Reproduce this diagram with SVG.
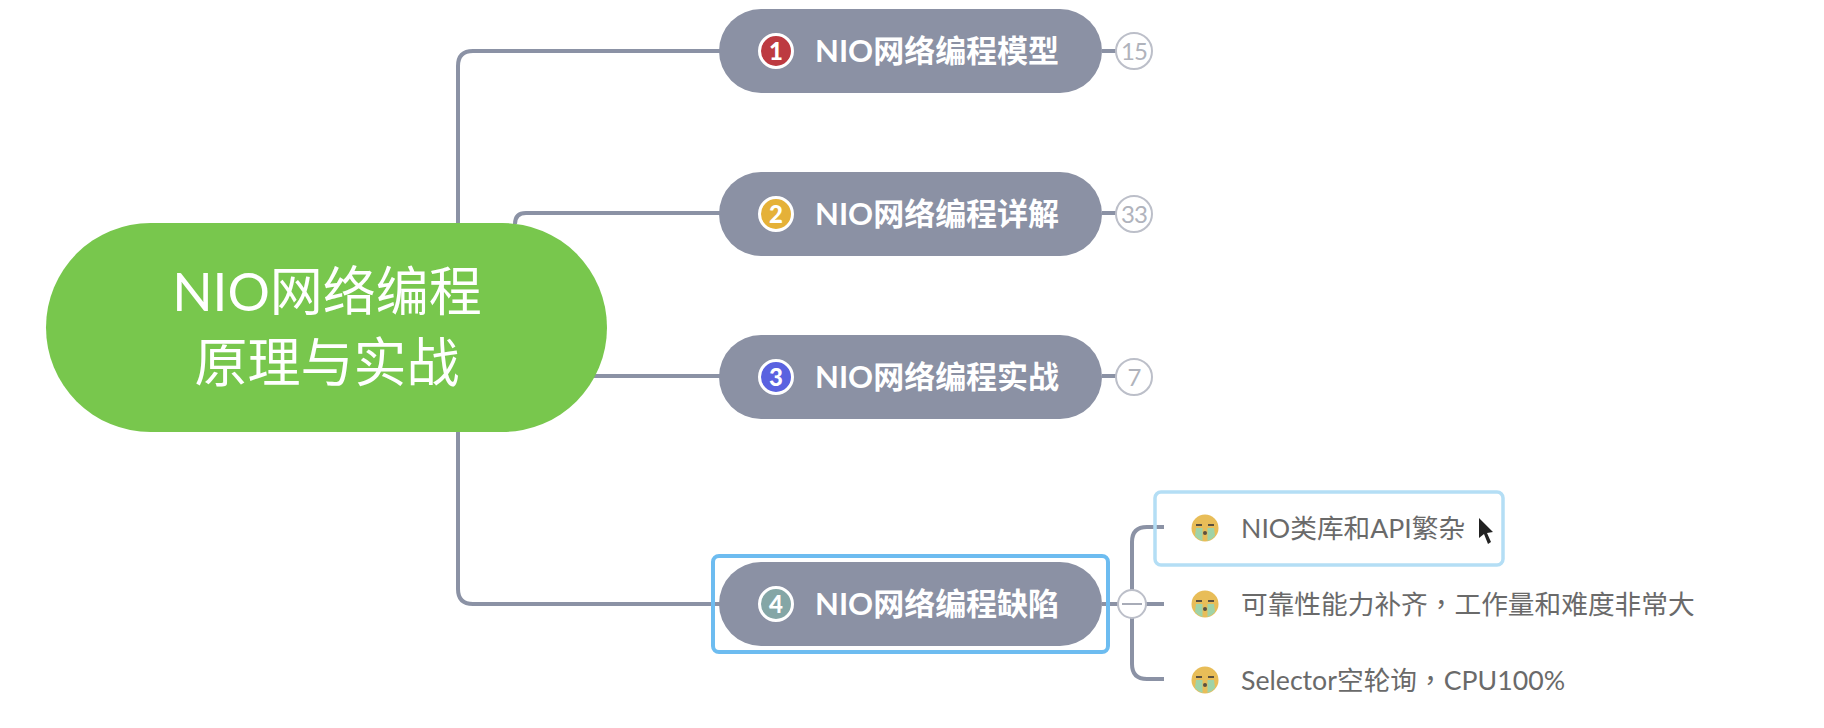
<svg xmlns="http://www.w3.org/2000/svg" xmlns:xlink="http://www.w3.org/1999/xlink" width="1824" height="728" viewBox="0 0 1824 728">
<style>
text{font-family:"Lato","Noto Sans CJK SC",sans-serif}
.conn{fill:none;stroke:#8b92a5;stroke-width:4}
.pill{fill:#8b91a4}
.ptext{fill:#fff;font-size:31px;font-weight:700}
.badge{stroke:#fff;stroke-width:3}
.bnum{fill:#fff;font-size:24px;font-weight:900;text-anchor:middle}
.count{fill:#fff;stroke:#bcbfc9;stroke-width:2}
.ctext{fill:#b0b3bc;font-size:24px;text-anchor:middle;letter-spacing:-1px}
.leaf{fill:#6a6a6a;font-size:26.7px}
.sel{fill:none;stroke:#6dbcf0;stroke-width:4}
.root{fill:#fff;font-size:53px;font-weight:400;text-anchor:middle}
.cm{font-family:"Noto Sans CJK TC",sans-serif}
</style>
<defs>
<g id="cry">
<circle r="13.5" fill="#e8bd58"/>
<path d="M-9 0H-2.500V13Q-7 11.500-10 8ZM2.500 0H9L10 8Q7 11.500 2.500 13Z" fill="#9fd3a8"/>
<path d="M-9-3H-3M3-3H9" stroke="#5a5040" stroke-width="2" fill="none"/>
<circle cy="5" r="2" fill="#5a5040"/>
</g>
</defs>
<rect width="1824" height="728" fill="#fff"/>
<g id="connectors">
<path class="conn" d="M458 224V66Q458 51 473 51H720"/>
<path class="conn" d="M515 224Q515 213 526 213H720"/>
<path class="conn" d="M590 376H720"/>
<path class="conn" d="M458 431V589Q458 604 473 604H720"/>
<path class="conn" d="M1102 51H1118M1102 213H1118M1102 376H1118"/>
<path class="conn" d="M1102 604H1164M1164 527H1147Q1132 527 1132 542V664Q1132 679 1147 679H1164"/>
</g>
<g id="root">
<rect x="46" y="223" width="561" height="209" rx="104.500" fill="#78c74d"/>
<text class="root" x="327" y="311">NIO网络编程</text>
<text class="root" x="327" y="382">原理与实战</text>
</g>
<g id="node1">
<rect class="pill" x="719" y="9" width="383" height="84" rx="42"/>
<circle class="badge" cx="776" cy="51" r="16.500" fill="#bd3a41"/>
<text class="bnum" x="776" y="60">1</text>
<text class="ptext" x="815" y="62">NIO网络编程模型</text>
<circle class="count" cx="1134" cy="51" r="18"/>
<text class="ctext" x="1134" y="60">15</text>
</g>
<g id="node2">
<rect class="pill" x="719" y="172" width="383" height="84" rx="42"/>
<circle class="badge" cx="776" cy="214" r="16.500" fill="#e5b138"/>
<text class="bnum" x="776" y="223">2</text>
<text class="ptext" x="815" y="225">NIO网络编程详解</text>
<circle class="count" cx="1134" cy="214" r="18"/>
<text class="ctext" x="1134" y="223">33</text>
</g>
<g id="node3">
<rect class="pill" x="719" y="335" width="383" height="84" rx="42"/>
<circle class="badge" cx="776" cy="377" r="16.500" fill="#5a62e0"/>
<text class="bnum" x="776" y="386">3</text>
<text class="ptext" x="815" y="388">NIO网络编程实战</text>
<circle class="count" cx="1134" cy="377" r="18"/>
<text class="ctext" x="1134" y="386">7</text>
</g>
<g id="node4">
<rect class="sel" x="713" y="556" width="395" height="96" rx="6"/>
<rect class="pill" x="719" y="562" width="383" height="84" rx="42"/>
<circle class="badge" cx="776" cy="604" r="16.500" fill="#84a6a6"/>
<text class="bnum" x="776" y="613">4</text>
<text class="ptext" x="815" y="615">NIO网络编程缺陷</text>
<circle class="count" cx="1132" cy="604" r="14"/>
<path d="M1122 604H1142" stroke="#a8acb8" stroke-width="2"/>
</g>
<g id="leaf1">
<rect x="1155" y="492" width="348" height="73" rx="6" fill="none" stroke="#b4def5" stroke-width="3.500"/>
<use xlink:href="#cry" href="#cry" x="1205" y="528"/>
<text class="leaf" x="1241" y="538">NIO类库和API繁杂</text>
<path d="M1479 518V538L1484 534L1488 544L1491 542L1487 533L1493 532Z" fill="#222"/>
</g>
<g id="leaf2">
<use xlink:href="#cry" href="#cry" x="1205" y="604"/>
<text class="leaf" x="1241" y="614">可靠性能力补齐<tspan class="cm">，</tspan>工作量和难度非常大</text>
</g>
<g id="leaf3">
<use xlink:href="#cry" href="#cry" x="1205" y="680"/>
<text class="leaf" x="1241" y="690">Selector空轮询<tspan class="cm">，</tspan>CPU100%</text>
</g>
</svg>
